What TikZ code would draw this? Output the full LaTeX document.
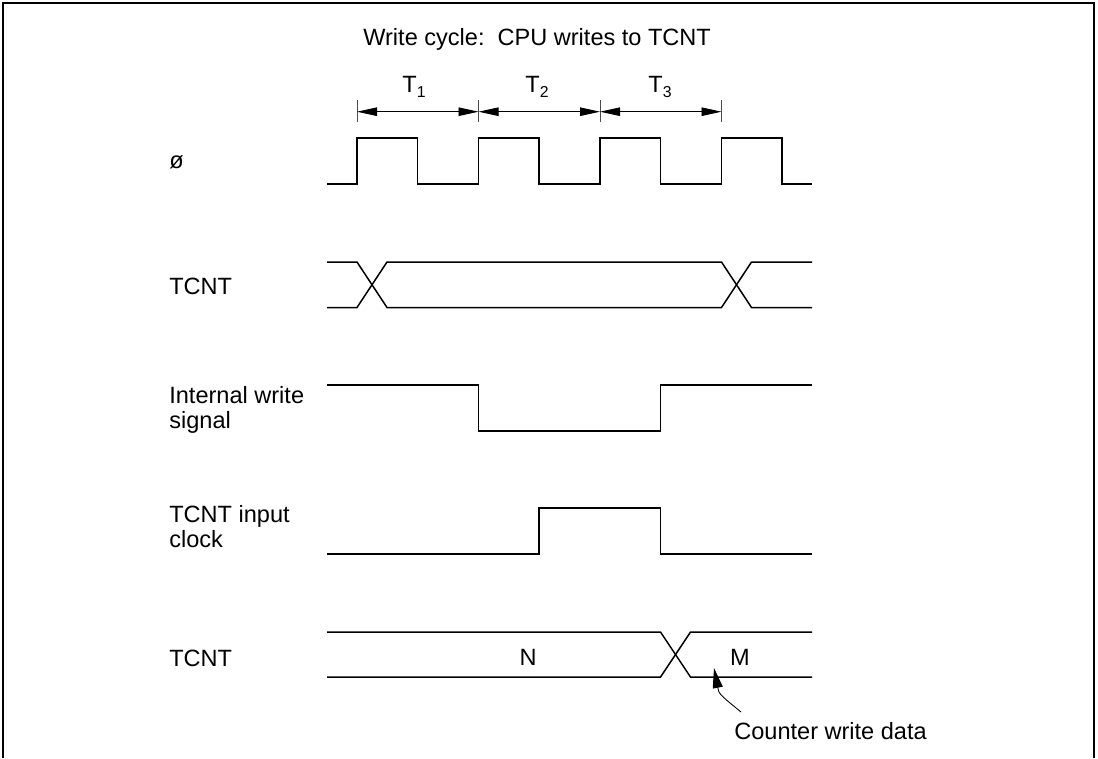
\documentclass[tikz,border=0pt]{standalone}
\usepackage{fontspec}
\setmainfont{Liberation Sans}
\usetikzlibrary{arrows.meta}
% T with lowered index
\newcommand{\Tsub}[1]{T\raisebox{-0.092cm}{\fontsize{9}{9}\selectfont #1}}

\begin{document}
\begin{tikzpicture}[x=0.02cm, y=-0.02cm,
    font=\fontsize{13.4}{14.1}\selectfont,
    sig/.style={line width=0.85pt},
    lbl/.style={inner sep=0pt, anchor=base west, align=left},
    span/.style={line width=0.5pt, {Triangle[length=0.4cm,width=0.17cm]}-{Triangle[length=0.4cm,width=0.17cm]}},
    tickmark/.style={line width=0.4pt, black!70}]
    \useasboundingbox (0,0) rectangle (1098,758);
    % Frame, open at the bottom
    \draw[line width=1.1pt] (3,758) -- (3,3) -- (1094,3) -- (1094,758);
    % Title
    \node[lbl] (title) at (363,45) {Write cycle:\ \ CPU writes to TCNT};
    % Signal names (base of a two-line label is its last line)
    \node[lbl] (phi) at (169,168) {ø};
    \node[lbl] (tcntA) at (169,294) {TCNT};
    \node[lbl] (iwr) at (169,428) {Internal write\\signal};
    \node[lbl] (tclk) at (169,547) {TCNT input\\clock};
    \node[lbl] (tcntB) at (169,666) {TCNT};
    % State boundaries T1..T3
    \foreach \x [count=\i from 0] in {357,478.5,600,721.5} {
      \coordinate (t\i) at (\x,111.7);
      \draw[tickmark] (\x,100) -- (\x,122);
    }
    \draw[span] (t0) -- (t1);
    \draw[span] (t1) -- (t2);
    \draw[span] (t2) -- (t3);
    \foreach \x/\n in {414/1,537/2,660/3}
      \node[inner sep=0pt, anchor=base] (lab\n) at (\x,92.7) {\Tsub{\n}};
    % System clock
    \draw[sig] (327,184) -- (357,184) -- (357,138) -- (417.5,138) -- (417.5,184)
      -- (478.5,184) -- (478.5,138) -- (539,138) -- (539,184)
      -- (600,184) -- (600,138) -- (660.5,138) -- (660.5,184)
      -- (721.5,184) -- (721.5,138) -- (782,138) -- (782,184) -- (812,184);
    % TCNT bus access
    \draw[sig] (327,262) -- (357,262) -- (387,307.5) -- (721.5,307.5) -- (751.5,262) -- (812,262);
    \draw[sig] (327,307.5) -- (357,307.5) -- (387,262) -- (721.5,262) -- (751.5,307.5) -- (812,307.5);
    % Internal write signal
    \draw[sig] (327,385) -- (478.5,385) -- (478.5,431) -- (660.5,431) -- (660.5,385) -- (812,385);
    % TCNT input clock
    \draw[sig] (327,554) -- (539,554) -- (539,508) -- (660.5,508) -- (660.5,554) -- (812,554);
    % TCNT contents N -> M
    \draw[sig] (327,632) -- (660.5,632) -- (690.5,677) -- (812,677);
    \draw[sig] (327,677) -- (660.5,677) -- (690.5,632) -- (812,632);
    \node[inner sep=0pt, anchor=base] (valN) at (528,665) {N};
    \node[inner sep=0pt, anchor=base] (valM) at (740,665) {M};
    % Counter write data note
    \node[lbl] (note) at (734,739) {Counter write data};
    \coordinate (tail) at (741,712);
    \coordinate (tip) at (714,668);
    \draw[line width=0.5pt, -{Triangle[length=0.4cm,width=0.2cm]}] (tail) .. controls (719,694) .. (tip);
\end{tikzpicture}
\end{document}
